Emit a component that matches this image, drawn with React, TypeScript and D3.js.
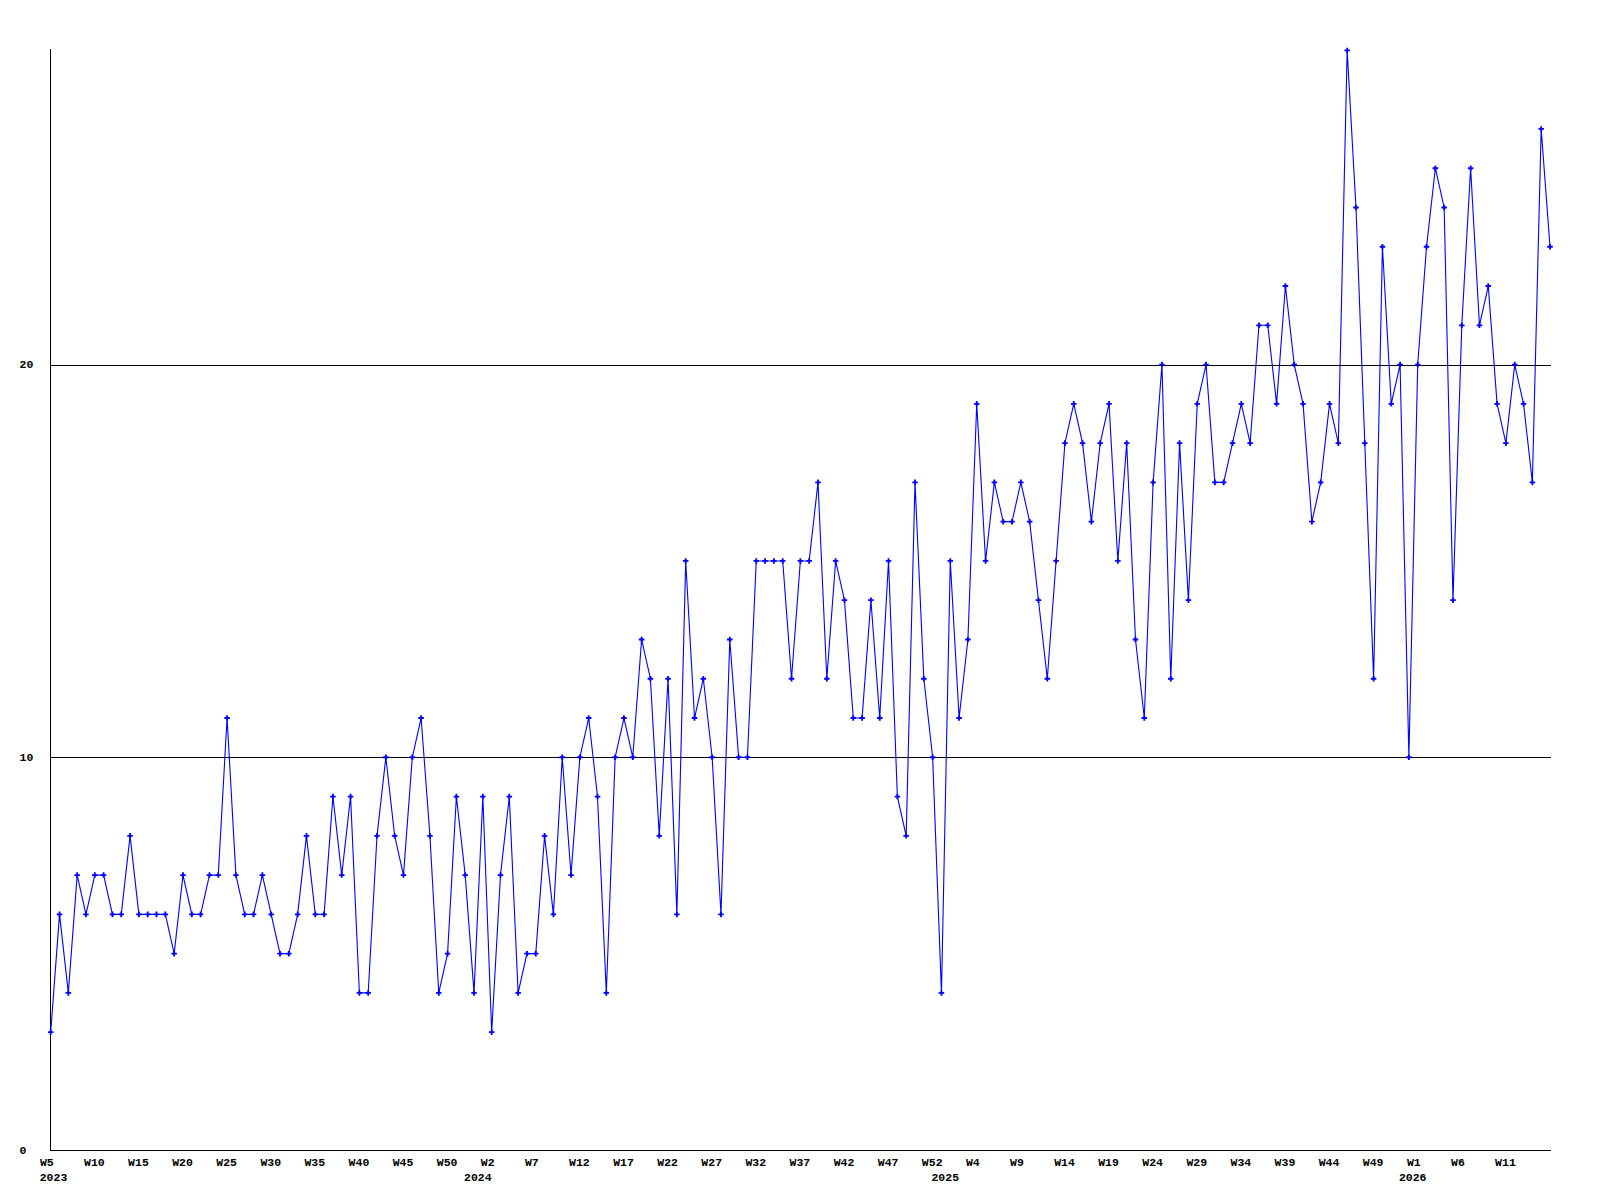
import React from "react";
import * as d3 from "d3";

// Weekly values, 2023 W5 .. 2026 W~16 (171 points)
const values: number[] = [
  3, 6, 4, 7, 6, 7, 7, 6, 6, 8,
  6, 6, 6, 6, 5, 7, 6, 6, 7, 7,
  11, 7, 6, 6, 7, 6, 5, 5, 6, 8,
  6, 6, 9, 7, 9, 4, 4, 8, 10, 8,
  7, 10, 11, 8, 4, 5, 9, 7, 4, 9,
  3, 7, 9, 4, 5, 5, 8, 6, 10, 7,
  10, 11, 9, 4, 10, 11, 10, 13, 12, 8,
  12, 6, 15, 11, 12, 10, 6, 13, 10, 10,
  15, 15, 15, 15, 12, 15, 15, 17, 12, 15,
  14, 11, 11, 14, 11, 15, 9, 8, 17, 12,
  10, 4, 15, 11, 13, 19, 15, 17, 16, 16,
  17, 16, 14, 12, 15, 18, 19, 18, 16, 18,
  19, 15, 18, 13, 11, 17, 20, 12, 18, 14,
  19, 20, 17, 17, 18, 19, 18, 21, 21, 19,
  22, 20, 19, 16, 17, 19, 18, 28, 24, 18,
  12, 23, 19, 20, 10, 20, 23, 25, 24, 14,
  21, 25, 21, 22, 19, 18, 20, 19, 17, 26,
  23,
];

// X tick labels, one every 5 points starting at point 0
const weekTickLabels: string[] = [
  "W5", "W10", "W15", "W20", "W25", "W30", "W35", "W40", "W45", "W50",
  "W2", "W7", "W12", "W17", "W22", "W27", "W32", "W37", "W42", "W47", "W52",
  "W4", "W9", "W14", "W19", "W24", "W29", "W34", "W39", "W44", "W49",
  "W1", "W6", "W11",
];
const tickStep = 5;

// Year labels and the index of the point where they sit
const yearLabels: string[] = ["2023", "2024", "2025", "2026"];
const yearIndices: number[] = [0, 49, 102, 155];

// Y ticks
const yTicks: number[] = [0, 10, 20];
const yGrid: number[] = [10, 20];

const FONT = "'Liberation Mono', 'DejaVu Sans Mono', monospace";

export default function App() {
  const width = 1600;
  const height = 1200;
  const x = d3.scaleLinear().domain([0, values.length - 1]).range([50.7, 1550]);
  const y = d3.scaleLinear().domain([0, 28]).range([1150, 50.4]);

  const line = d3
    .line<number>()
    .x((_, i) => x(i))
    .y((d) => y(d));

  const cross = d3.symbol().type(d3.symbolCross).size(17)();

  return (
    <div style={{ position: "absolute", left: 0, top: 0 }}>
      <svg width={width} height={height} style={{ display: "block", background: "#fff" }}>
        <rect x={0} y={0} width={width} height={height} fill="#fff" />
        {/* grid lines */}
        {yGrid.map((v) => (
          <line
            key={"g" + v}
            x1={50}
            x2={1551}
            y1={Math.round(y(v)) + 0.5}
            y2={Math.round(y(v)) + 0.5}
            stroke="#000"
            strokeWidth={1}
          />
        ))}
        {/* axes */}
        <line x1={50.5} x2={50.5} y1={49} y2={1150.5} stroke="#000" strokeWidth={1} />
        <line x1={50} x2={1551} y1={1150.5} y2={1150.5} stroke="#000" strokeWidth={1} />

        {/* y tick labels */}
        {yTicks.map((v) => (
          <text
            key={"yt" + v}
            x={19.5}
            y={y(v) + 3.8}
            fontFamily={FONT}
            fontWeight="bold"
            fontSize={11.5}
            fill="#000"
          >
            {v}
          </text>
        ))}

        {/* x tick labels */}
        {weekTickLabels.map((lab, k) => (
          <text
            key={"xt" + k}
            x={x(k * tickStep) - 10.8}
            y={1165.5}
            fontFamily={FONT}
            fontWeight="bold"
            fontSize={11.5}
            fill="#000"
          >
            {lab}
          </text>
        ))}

        {/* year labels */}
        {yearLabels.map((lab, k) =>
          k === 0 ? (
            <text
              key={"yr" + k}
              x={x(yearIndices[k]) - 11}
              y={1181}
              fontFamily={FONT}
              fontWeight="bold"
              fontSize={11.5}
              fill="#000"
            >
              {lab}
            </text>
          ) : (
            <text
              key={"yr" + k}
              x={x(yearIndices[k]) - 5}
              y={1181}
              textAnchor="middle"
              fontFamily={FONT}
              fontWeight="bold"
              fontSize={11.5}
              fill="#000"
            >
              {lab}
            </text>
          )
        )}

        {/* series line */}
        <path d={line(values) || ""} fill="none" stroke="#0000ff" strokeWidth={1.1} />
        {values.map((v, i) => (
          <path
            key={"m" + i}
            d={cross || ""}
            transform={`translate(${x(i)},${y(v)})`}
            fill="#0000ff"
          />
        ))}
      </svg>
    </div>
  );
}
